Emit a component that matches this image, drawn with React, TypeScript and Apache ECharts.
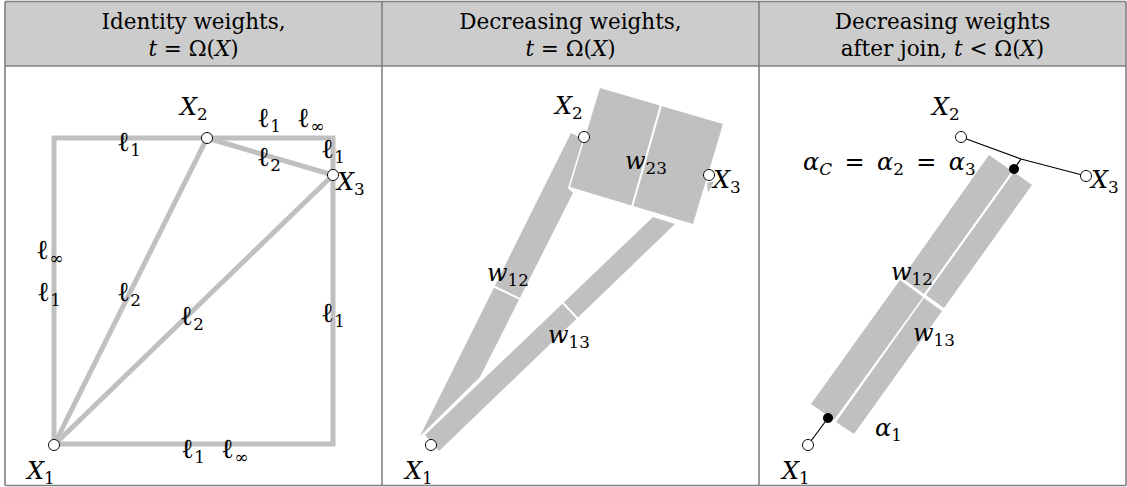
import React, { useEffect, useRef } from "react";
import * as echarts from "echarts";

const WIDTH = 1127;
const HEIGHT = 487;

// ---- table frame ----
const columnEdges = [5, 382, 759, 1126];
const tableTop = 1.5;
const headerBottom = 66;
const tableBottom = 485.5;

// ---- header texts ----
const headerTitles = ["Identity weights,", "Decreasing weights,", "Decreasing weights"];
type Seg = { t: string; it?: boolean; sub?: boolean; big?: boolean };
const headerFormulas: Seg[][] = [
  [{ t: "t", it: true }, { t: " = Ω(" }, { t: "X", it: true }, { t: ")" }],
  [{ t: "t", it: true }, { t: " = Ω(" }, { t: "X", it: true }, { t: ")" }],
  [{ t: "after join, " }, { t: "t", it: true }, { t: " < Ω(" }, { t: "X", it: true }, { t: ")" }],
];

// ---- panel 1 : identity weights ----
const p1Points = [[54, 445], [207, 138], [333, 175]];
const p1Frame = [[54, 444], [54, 138], [333, 138], [333, 444]];
const p1Diagonals = [
  [[54, 445], [207, 138]],
  [[54, 445], [333, 175]],
  [[207, 138], [333, 175]],
];

// ---- panel 2 : decreasing weights ----
const p2Points = [[431, 445], [584, 137], [709, 175]];
const p2Box = [[600, 88], [723, 124], [693, 224], [570, 187]];
const p2W12 = [[571, 133], [583, 139], [568, 188], [573, 193], [480, 377], [420, 436]];
const p2W13 = [[425, 435], [653, 217], [675, 224], [439, 451]];
const p2Tip = [[707, 183], [714, 181], [708, 193]];
const p2Cuts = [
  [[661, 105], [632, 207]],
  [[493, 286], [522, 300]],
  [[561, 301], [579, 320]],
];

// ---- panel 3 : after join ----
const p3Points = [[808, 445], [961, 137], [1086, 176]];
const p3Joins = [[828, 418], [1014, 169]];
const p3Bands = [
  [[811, 404], [834, 420], [923, 297], [900, 280]],
  [[902, 278], [924, 294], [1012, 171], [989, 155]],
  [[836, 422], [854, 434], [942, 311], [924, 298]],
  [[926, 295], [944, 308], [1032, 185], [1014, 172]],
];
const p3Links = [
  [[808, 445], [828, 418]],
  [[961, 137], [1021, 159], [1086, 176]],
  [[1021, 159], [1014, 169]],
];

// ---- labels ----
const ell = (s: string): Seg[] => [{ t: "ℓ", big: true }, { t: s, sub: true }];
const X = (s: string): Seg[] => [{ t: "X", it: true }, { t: s, sub: true }];
const w = (s: string): Seg[] => [{ t: "w", it: true }, { t: s, sub: true }];
const alpha = (s: string, it = false): Seg[] => [{ t: "α", it: true }, { t: s, sub: true, it }];
const EQ = " \u2009=\u2009 ";

const labels: [Seg[], number, number][] = [
  [X("2"), 180, 115],
  [ell("1"), 257, 127],
  [ell("∞"), 297, 127],
  [ell("1"), 117, 151],
  [ell("2"), 257, 166],
  [ell("1"), 321, 158],
  [X("3"), 337, 190],
  [ell("∞"), 36, 259],
  [ell("1"), 37, 301],
  [ell("2"), 117, 301],
  [ell("2"), 180, 325],
  [ell("1"), 321, 322],
  [ell("1"), 181, 458],
  [ell("∞"), 221, 458],
  [X("1"), 27, 479],

  [X("2"), 555, 114],
  [w("23"), 625, 169],
  [X("3"), 713, 188],
  [w("12"), 487, 281],
  [w("13"), 548, 343],
  [X("1"), 405, 479],

  [X("2"), 932, 115],
  [[...alpha("C", true), { t: EQ }, ...alpha("2"), { t: EQ }, ...alpha("3")], 803, 170],
  [X("3"), 1091, 188],
  [w("12"), 891, 280],
  [w("13"), 913, 341],
  [alpha("1"), 875, 436],
  [X("1"), 782, 479],
];

const FONT = '"DejaVu Serif", "Liberation Serif", serif';
const TEXT_SIZE = 24;
const HEADER_SIZE = 21.5;
const GRAY = "#c0c0c0";

let ctx: CanvasRenderingContext2D | null = null;
function measure(text: string, italic: boolean, size: number) {
  if (!ctx) ctx = document.createElement("canvas").getContext("2d");
  const font = `${italic ? "italic " : ""}${size}px ${FONT}`;
  ctx!.font = font;
  const m = ctx!.measureText(text);
  const asc = (m as any).fontBoundingBoxAscent ?? size * 0.93;
  const desc = (m as any).fontBoundingBoxDescent ?? size * 0.24;
  return { w: m.width, asc, desc, font };
}

function layout(segs: Seg[], x: number, baseline: number, align: "left" | "center", size: number) {
  const parts = segs.map((s) => {
    const fs = s.sub ? size * 0.7 : s.big ? size * 1.15 : size;
    return { s, fs, m: measure(s.t, !!s.it, fs) };
  });
  const total = parts.reduce((a, p) => a + p.m.w, 0);
  let cx = align === "center" ? x - total / 2 : x;
  return parts.map((p) => {
    const bl = baseline + (p.s.sub ? size * 0.2 : 0);
    const el = {
      type: "text",
      x: cx,
      y: bl - (p.m.asc - p.m.desc) / 2,
      z: 100,
      silent: true,
      style: { text: p.s.t, font: p.m.font, fill: "#000", align: "left", verticalAlign: "middle" },
    };
    cx += p.m.w;
    return el;
  });
}

function shapeSeries(shapes: number[][][], mode: "fill" | "stroke" | "closed", color: string, width: number, z: number) {
  return {
    type: "custom",
    coordinateSystem: "cartesian2d",
    silent: true,
    z,
    data: shapes.map((s) => s[0]),
    renderItem: (params: any, api: any) => {
      const pts = shapes[params.dataIndex].map((p) => api.coord(p));
      if (mode === "fill") {
        return { type: "polygon", shape: { points: pts }, style: { fill: color, stroke: null } };
      }
      return {
        type: mode === "closed" ? "polygon" : "polyline",
        shape: { points: pts },
        style: { fill: "none", stroke: color, lineWidth: width, lineJoin: "miter", lineCap: "butt" },
      };
    },
  };
}

export default function App() {
  const ref = useRef<HTMLDivElement>(null);
  useEffect(() => {
    if (!ref.current) return;
    const chart = echarts.init(ref.current, undefined, { renderer: "svg" });

    const frame: any[] = [
      {
        type: "rect",
        z: 0,
        silent: true,
        shape: { x: columnEdges[0], y: tableTop, width: columnEdges[3] - columnEdges[0], height: headerBottom - tableTop },
        style: { fill: "#cccccc" },
      },
    ];
    const lineStyle = { stroke: "#808080", lineWidth: 1.6 };
    [tableTop, headerBottom, tableBottom].forEach((y) =>
      frame.push({ type: "line", z: 1, silent: true, shape: { x1: columnEdges[0], y1: y, x2: columnEdges[3], y2: y }, style: lineStyle })
    );
    columnEdges.forEach((x) =>
      frame.push({ type: "line", z: 1, silent: true, shape: { x1: x, y1: tableTop, x2: x, y2: tableBottom }, style: lineStyle })
    );

    const texts: any[] = [];
    headerTitles.forEach((title, i) => {
      const cx = (columnEdges[i] + columnEdges[i + 1]) / 2;
      texts.push(...layout([{ t: title }], cx, 29, "center", HEADER_SIZE));
      texts.push(...layout(headerFormulas[i], cx, 56, "center", HEADER_SIZE));
    });
    labels.forEach(([segs, x, y]) => texts.push(...layout(segs, x, y, "left", TEXT_SIZE)));

    const circleStyle = { color: "#ffffff", borderColor: "#000000", borderWidth: 1, opacity: 1 };

    chart.setOption({
      animation: false,
      grid: { left: 0, right: 0, top: 0, bottom: 0 },
      xAxis: { type: "value", min: 0, max: WIDTH, show: false },
      yAxis: { type: "value", min: 0, max: HEIGHT, inverse: true, show: false },
      graphic: { elements: [...frame, ...texts] },
      series: [
        shapeSeries([p1Frame], "closed", GRAY, 5, 2),
        shapeSeries(p1Diagonals, "stroke", GRAY, 5, 2),
        shapeSeries([p2Box, p2W12, p2W13, p2Tip], "fill", GRAY, 0, 2),
        shapeSeries(p2Cuts, "stroke", "#ffffff", 2, 3),
        shapeSeries(p3Bands, "fill", GRAY, 0, 2),
        shapeSeries(p3Links, "stroke", "#000000", 1.2, 4),
        {
          type: "scatter",
          silent: true,
          z: 5,
          symbol: "circle",
          symbolSize: 11,
          itemStyle: circleStyle,
          data: [...p1Points, ...p2Points, ...p3Points],
        },
        {
          type: "scatter",
          silent: true,
          z: 5,
          symbol: "circle",
          symbolSize: 10,
          itemStyle: { color: "#000000", opacity: 1 },
          data: p3Joins,
        },
      ],
    });
    return () => chart.dispose();
  }, []);
  return <div ref={ref} style={{ position: "absolute", left: 0, top: 0, width: WIDTH, height: HEIGHT }} />;
}
